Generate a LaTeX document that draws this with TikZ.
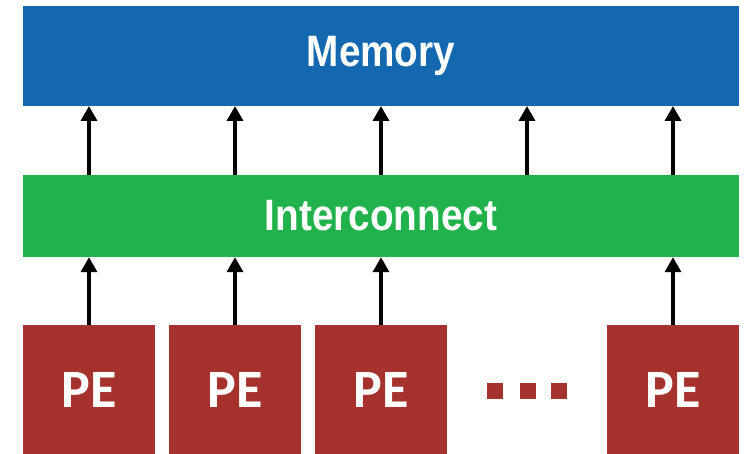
\documentclass[tikz,border=0pt]{standalone}
\usepackage{fontspec}
\setmainfont{Liberation Sans}
\newfontfamily\labelfont[FakeStretch=0.88]{Liberation Sans}
\newfontfamily\pefont{Carlito}
\usetikzlibrary{arrows.meta}
\definecolor{memblue}{RGB}{19,104,176}
\definecolor{icgreen}{RGB}{33,178,76}
\definecolor{pered}{RGB}{166,50,46}
\begin{document}
\begin{tikzpicture}[x=1pt,y=-1pt,
  bar/.style={draw=none,inner sep=0pt,minimum width=716pt,text=white,font=\labelfont\bfseries\fontsize{44}{48}\selectfont},
  pebox/.style={fill=pered,draw=none,inner sep=0pt,minimum width=132pt,minimum height=129pt,text=white,font=\pefont\bfseries\fontsize{54}{58}\selectfont},
  dotsq/.style={fill=pered,draw=none,inner sep=0pt,minimum size=16pt},
  conn/.style={line width=3.5pt,-{Triangle[width=16pt,length=15pt]}}]
\useasboundingbox (0,0) rectangle (745,454);
\fill[white] (0,0) rectangle (745,454);
\node[bar,fill=memblue,minimum height=100pt] (mem) at (381,56) {Memory};
\node[bar,fill=icgreen,minimum height=82pt] (ic) at (381,216) {Interconnect};
\node[pebox] (pe1) at (89,389.5) {PE};
\node[pebox] (pe2) at (235,389.5) {PE};
\node[pebox] (pe3) at (381,389.5) {PE};
\node[pebox] (pe4) at (673,389.5) {PE};
\node[dotsq] (d1) at (495,391) {};
\node[dotsq] (d2) at (527.5,391) {};
\node[dotsq] (d3) at (559,391) {};
\foreach \x in {89,235,381,527,673}{
  \coordinate (u\x) at (\x,175);
  \coordinate (t\x) at (\x,106);
  \draw[conn] (u\x) -- (t\x);
}
\foreach \p in {pe1,pe2,pe3,pe4}{
  \draw[conn] (\p.north) -- (\p.north |- ic.south);
}
\end{tikzpicture}
\end{document}
